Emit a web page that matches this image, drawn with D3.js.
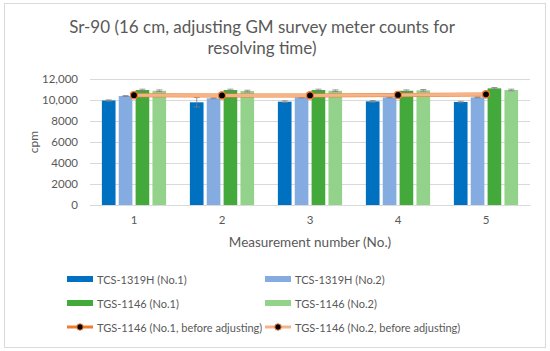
<!DOCTYPE html>
<html>
<head>
<meta charset="utf-8">
<script src="https://cdn.jsdelivr.net/npm/d3@7"></script>
<style>
  body { margin: 0; background: #fff; }
  text { font-family: Lato, "Open Sans", sans-serif; fill: #595959; }
</style>
</head>
<body>
<div id="chart"></div>
<script>
// chart data
const categories = ["1", "2", "3", "4", "5"];
const barSeries = ["TCS-1319H (No.1)", "TCS-1319H (No.2)", "TGS-1146 (No.1)", "TGS-1146 (No.2)"];
const tcsNo1 = [9950, 9780, 9840, 9870, 9810];
const tcsNo2 = [10380, 10160, 10250, 10250, 10250];
const tgsNo1 = [10950, 10950, 10950, 10880, 11110];
const tgsNo2 = [10880, 10850, 10880, 10920, 10950];
const tcsNo1Err = [60, 450, 80, 80, 70];
const tcsNo2Err = [40, 40, 40, 40, 40];
const tgsNo1Err = [80, 80, 80, 80, 80];
const tgsNo2Err = [80, 80, 80, 80, 80];
const lineSeries = ["TGS-1146 (No.1, before adjusting)", "TGS-1146 (No.2, before adjusting)"];
const tgsNo1Before = [10450, 10430, 10440, 10470, 10530];
const tgsNo2Before = [10460, 10440, 10440, 10480, 10540];
const yTicks = [0, 2000, 4000, 6000, 8000, 10000, 12000];

const barColors = ["#0070C0", "#85ACE0", "#43A93B", "#93D28A"];
const lineColors = ["#ED7D31", "#F5B388"];

const W = 550, H = 351;
const svg = d3.select("#chart").append("svg")
    .attr("width", W).attr("height", H);

// outer frame
svg.append("rect")
    .attr("x", 4.5).attr("y", 3.5).attr("width", 541).attr("height", 344)
    .attr("fill", "#fff").attr("stroke", "#d9d9d9");

// title
svg.append("text").attr("x", 262).attr("y", 33).attr("text-anchor", "middle")
    .style("font-size", "17px").text("Sr-90 (16 cm, adjusting GM survey meter counts for");
svg.append("text").attr("x", 262).attr("y", 54).attr("text-anchor", "middle")
    .style("font-size", "17px").text("resolving time)");

// scales
const x0 = d3.scaleBand().domain(categories).range([90, 530])
    .paddingInner(0.27).paddingOuter(0.135);
const x1 = d3.scaleBand().domain(barSeries).range([0, x0.bandwidth()]).paddingInner(0.19);
const y = d3.scaleLinear().domain([0, 12000]).range([205, 79]);

// gridlines
svg.append("g").selectAll("line").data(yTicks).enter().append("line")
    .attr("x1", 90).attr("x2", 530)
    .attr("y1", d => y(d) + 0.5).attr("y2", d => y(d) + 0.5)
    .attr("stroke", "#d9d9d9").attr("stroke-width", 1);

// y axis
const yAxis = svg.append("g").attr("transform", "translate(90,0)")
    .call(d3.axisLeft(y).tickValues(yTicks).tickSize(0).tickPadding(12)
        .tickFormat(d => d >= 10000 ? d3.format(",")(d) : d));
yAxis.select(".domain").remove();
yAxis.selectAll("text").style("font-size", "11.5px").style("font-family", "Lato, sans-serif").attr("fill", "#595959");

svg.append("text").attr("transform", "translate(38,142) rotate(-90)")
    .attr("text-anchor", "middle").style("font-size", "12px").text("cpm");

// x axis
const xAxis = svg.append("g").attr("transform", "translate(0,205)")
    .call(d3.axisBottom(x0).tickSize(0).tickPadding(11));
xAxis.select(".domain").attr("stroke", "#d9d9d9");
xAxis.selectAll("text").style("font-size", "11.5px").style("font-family", "Lato, sans-serif").attr("fill", "#595959");

svg.append("text").attr("x", 310).attr("y", 247).attr("text-anchor", "middle")
    .style("font-size", "13.5px").text("Measurement number (No.)");

// bars
const barValues = [tcsNo1, tcsNo2, tgsNo1, tgsNo2];
const barErrs = [tcsNo1Err, tcsNo2Err, tgsNo1Err, tgsNo2Err];
barSeries.forEach((s, si) => {
    const g = svg.append("g");
    const data = categories.map((c, i) => ({ c, v: barValues[si][i], e: barErrs[si][i] }));
    g.selectAll("rect").data(data).enter().append("rect")
        .attr("x", d => x0(d.c) + x1(s))
        .attr("width", x1.bandwidth())
        .attr("y", d => y(d.v))
        .attr("height", d => y(0) - y(d.v))
        .attr("fill", barColors[si]);
    // error bars
    const eb = g.selectAll(".err").data(data).enter().append("g")
        .attr("stroke", "#7f7f7f").attr("stroke-width", 0.8);
    eb.append("line")
        .attr("x1", d => x0(d.c) + x1(s) + x1.bandwidth() / 2)
        .attr("x2", d => x0(d.c) + x1(s) + x1.bandwidth() / 2)
        .attr("y1", d => y(d.v + d.e)).attr("y2", d => y(d.v - d.e));
    [1, -1].forEach(sign => {
        eb.append("line")
            .attr("x1", d => x0(d.c) + x1(s) + x1.bandwidth() / 2 - 3)
            .attr("x2", d => x0(d.c) + x1(s) + x1.bandwidth() / 2 + 3)
            .attr("y1", d => y(d.v + sign * d.e)).attr("y2", d => y(d.v + sign * d.e));
    });
});

// lines
const lineValues = [tgsNo1Before, tgsNo2Before];
const cx = c => x0(c) + x0.bandwidth() / 2;
lineSeries.forEach((s, si) => {
    const data = categories.map((c, i) => ({ c, v: lineValues[si][i] }));
    svg.append("path").datum(data)
        .attr("fill", "none").attr("stroke", lineColors[si]).attr("stroke-width", si === 0 ? 4 : 3)
        .attr("d", d3.line().x(d => cx(d.c)).y(d => y(d.v)));
    svg.append("g").selectAll("circle").data(data).enter().append("circle")
        .attr("cx", d => cx(d.c)).attr("cy", d => y(d.v)).attr("r", 3.5)
        .attr("fill", "#000").attr("stroke", lineColors[0]).attr("stroke-width", 1.2);
});

// legend
const legendItems = [
    { name: barSeries[0], type: "bar", color: barColors[0], col: 0, row: 0 },
    { name: barSeries[1], type: "bar", color: barColors[1], col: 1, row: 0 },
    { name: barSeries[2], type: "bar", color: barColors[2], col: 0, row: 1 },
    { name: barSeries[3], type: "bar", color: barColors[3], col: 1, row: 1 },
    { name: lineSeries[0], type: "line", color: lineColors[0], col: 0, row: 2 },
    { name: lineSeries[1], type: "line", color: lineColors[1], col: 1, row: 2 }
];
const legend = svg.append("g");
legendItems.forEach(it => {
    const lx = it.col === 0 ? 67 : 265;
    const ly = 279 + it.row * 24;
    const g = legend.append("g").attr("transform", `translate(${lx},${ly})`);
    if (it.type === "bar") {
        g.append("rect").attr("x", 0).attr("y", -3).attr("width", 26).attr("height", 6).attr("fill", it.color);
    } else {
        g.append("line").attr("x1", 0).attr("x2", 26).attr("y1", 0).attr("y2", 0)
            .attr("stroke", it.color).attr("stroke-width", 3);
        g.append("circle").attr("cx", 13).attr("cy", 0).attr("r", 3.2)
            .attr("fill", "#000").attr("stroke", lineColors[0]).attr("stroke-width", 1);
    }
    g.append("text").attr("x", 30).attr("y", 4.5).style("font-size", "11px").text(it.name);
});
</script>
</body>
</html>
